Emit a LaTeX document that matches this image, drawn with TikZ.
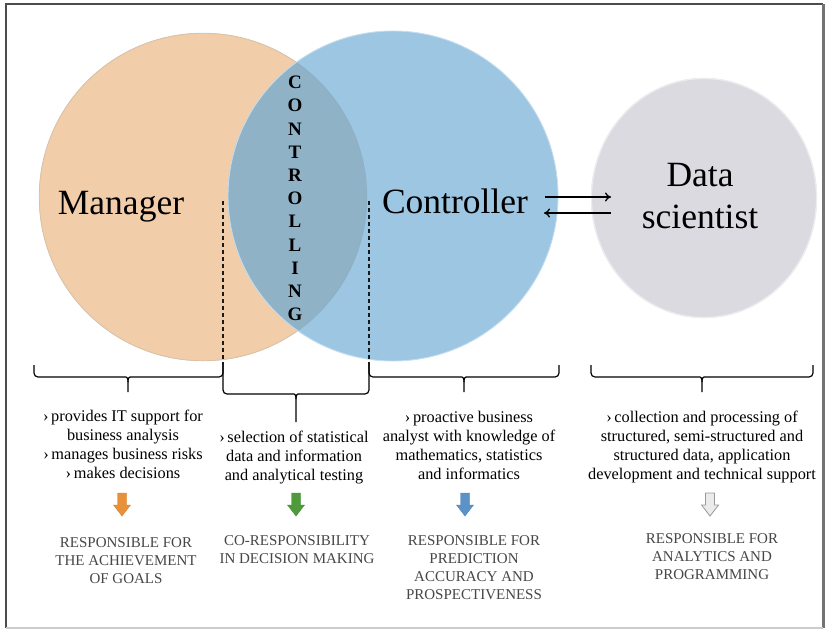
\documentclass[tikz,border=0pt]{standalone}
\usepackage{fontspec}
\setmainfont{Liberation Serif}
\usetikzlibrary{arrows.meta}
\definecolor{orangefill}{HTML}{F1CDA9}
\definecolor{bluefill}{HTML}{9DC6E2}
\definecolor{lensfill}{HTML}{8FB2C6}
\definecolor{greyfill}{HTML}{DBDAE0}
\definecolor{arrorange}{HTML}{E8913A}
\definecolor{arrgreen}{HTML}{4F9A3B}
\definecolor{arrblue}{HTML}{5B93C7}
\newcommand{\dnarrow}[3]{\filldraw[#3] (#1-4.5,#2) -- (#1+4.5,#2) -- (#1+4.5,#2+12) -- (#1+8.5,#2+12) -- (#1,#2+23) -- (#1-8.5,#2+12) -- (#1-4.5,#2+12) -- cycle;}
\newcommand{\mybrace}[6]{%
  \draw[bracestyle] (#1,#4) [rounded corners=4pt] -- (#1,#5) -- (#3-6,#5) [sharp corners] .. controls (#3-1,#5) and (#3,#5+1) .. (#3,#5+5) -- (#3,#6);
  \draw[bracestyle] (#2,#4) [rounded corners=4pt] -- (#2,#5) -- (#3+6,#5) [sharp corners] .. controls (#3+1,#5) and (#3,#5+1) .. (#3,#5+5);}
\tikzset{
  big/.style={font=\fontsize{35.5}{42}\selectfont, inner sep=0pt},
  desc/.style={font=\fontsize{16.3}{19}\selectfont, align=center, inner sep=0pt, anchor=north},
  resp/.style={font=\fontsize{15}{18}\selectfont, align=center, inner sep=0pt, anchor=north, text=black!72},
  bracestyle/.style={line width=1.2pt, black},
  dashline/.style={dash pattern=on 4pt off 3pt, line width=1.2pt, black!90},
  linkarrow/.style={-{To[length=6pt,width=9pt]}, line width=1.3pt},
}
\begin{document}
\begin{tikzpicture}[x=1pt,y=-1pt]
\useasboundingbox (0,0) rectangle (827,630);
\fill[white] (0,0) rectangle (827,630);
% frame
\draw[black!70, line width=2pt] (6,628) -- (6,4) -- (823,4);
\draw[black!55, line width=3pt] (823,4) -- (823,628);
\draw[black!20, line width=1.5pt] (6,628) -- (823,628);
% circles
\fill[orangefill] (203,197) circle[radius=164];
\draw[orangefill!97!black, line width=0.8pt] (203,197) circle[radius=163.6];
\fill[bluefill] (393,196) circle[radius=165];
\begin{scope}
  \clip (203,197) circle[radius=164];
  \fill[lensfill] (393,196) circle[radius=165];
\end{scope}
\draw[lensfill!85!black, line width=0.4pt, opacity=0.3] (203,197) circle[radius=164];
\draw[bluefill!60!white, line width=0.9pt] (393,196) circle[radius=165];
\fill[greyfill] (704,198) circle[x radius=113, y radius=120];
\draw[greyfill!50!white, line width=1.2pt] (704,198) circle[x radius=112.5, y radius=119.5];
% labels
\node[big, anchor=base] (mgr) at (121,214) {Manager};
\node[big, anchor=base] (ctl) at (455,213) {Controller};
\node[big, align=center, anchor=north] (ds) at (700,163) {Data\\scientist};
\node[font=\bfseries\fontsize{19}{23.2}\selectfont, align=center, inner sep=0pt, anchor=north] (ctrl) at (295,76) {C\\O\\N\\T\\R\\O\\L\\L\\I\\N\\G};
% link arrows
\coordinate (la) at (545,197);
\coordinate (lb) at (611,197);
\coordinate (lc) at (611,213);
\coordinate (ld) at (544,213);
\draw[linkarrow] (la) -- (lb);
\draw[linkarrow] (lc) -- (ld);
% dashed lines
\coordinate (d1t) at (223,201);
\coordinate (d1b) at (223,365);
\coordinate (d2t) at (369,201);
\coordinate (d2b) at (369,365);
\draw[dashline] (d1t) -- (d1b);
\draw[dashline] (d2t) -- (d2b);
% braces
\mybrace{34}{223}{128}{365}{377}{392}
\mybrace{223}{369}{296}{365}{394}{422}
\mybrace{369}{559}{464}{365}{377}{392}
\mybrace{591}{813}{702}{365}{377}{392}
% descriptions
\node[desc] (t1) at (123,410) {›\,provides IT support for\\business analysis\\›\,manages business risks\\›\,makes decisions};
\node[desc] (t2) at (294,431) {›\,selection of statistical\\data and information\\and analytical testing};
\node[desc] (t3) at (469,411) {›\,proactive business\\analyst with knowledge of\\mathematics, statistics\\and informatics};
\node[desc] (t4) at (702,411) {›\,collection and processing of\\structured, semi-structured and\\structured data, application\\development and technical support};
% block arrows
\dnarrow{122}{493}{fill=arrorange, draw=arrorange!90!black, line width=0.4pt}
\dnarrow{296}{493}{fill=arrgreen, draw=arrgreen!90!black, line width=0.4pt}
\dnarrow{465}{493}{fill=arrblue, draw=arrblue!90!black, line width=0.4pt}
\dnarrow{710}{493}{fill=black!8, draw=black!40, line width=0.8pt}
% responsibilities
\node[resp] (r1) at (126,537) {RESPONSIBLE FOR\\THE ACHIEVEMENT\\OF GOALS};
\node[resp] (r2) at (297,535) {CO-RESPONSIBILITY\\IN DECISION MAKING};
\node[resp] (r3) at (474,535) {RESPONSIBLE FOR\\PREDICTION\\ACCURACY AND\\PROSPECTIVENESS};
\node[resp] (r4) at (712,533) {RESPONSIBLE FOR\\ANALYTICS AND\\PROGRAMMING};
\end{tikzpicture}
\end{document}
